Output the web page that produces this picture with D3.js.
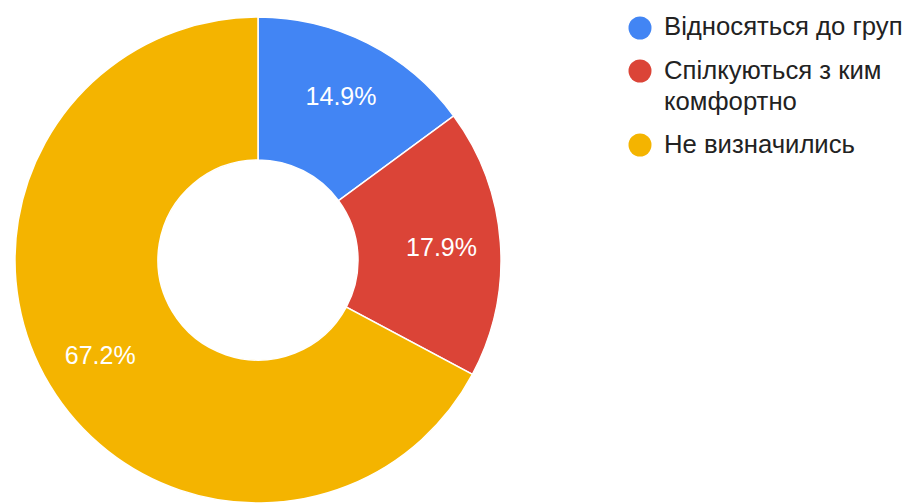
<!DOCTYPE html>
<html>
<head>
<meta charset="utf-8">
<script src="https://cdn.jsdelivr.net/npm/d3@7"></script>
<style>
  html, body { margin: 0; padding: 0; background: #fff; }
  svg { display: block; font-family: Arial, "Liberation Sans", sans-serif; }
</style>
</head>
<body>
<svg id="chart" width="909" height="503"></svg>
<script>
// Survey answers and their shares (percent)
const categories = ["Відносяться до груп", "Спілкуються з ким комфортно", "Не визначились"];
const legendLines = [["Відносяться до груп"], ["Спілкуються з ким", "комфортно"], ["Не визначились"]];
const values = [14.9, 17.9, 67.2];
const colors = ["#4285f4", "#db4437", "#f4b400"];

const svg = d3.select("#chart");
const cx = 258, cy = 260;
const outerR = 243, innerR = 100, labelR = 184;

const pie = d3.pie().value(d => d.value).sort(null);
const arcs = pie(categories.map((c, i) => ({ name: c, value: values[i], color: colors[i] })));

const arc = d3.arc().innerRadius(innerR).outerRadius(outerR);
const labelArc = d3.arc().innerRadius(labelR).outerRadius(labelR);

const g = svg.append("g").attr("transform", `translate(${cx},${cy})`);

g.selectAll("path.slice")
  .data(arcs)
  .join("path")
  .attr("class", "slice")
  .attr("d", arc)
  .attr("fill", d => d.data.color)
  .attr("stroke", "#fff")
  .attr("stroke-width", 1.5);

g.selectAll("text.pct")
  .data(arcs)
  .join("text")
  .attr("class", "pct")
  .attr("transform", d => `translate(${labelArc.centroid(d)})`)
  .attr("text-anchor", "middle")
  .attr("dy", "0.36em")
  .attr("fill", "#fff")
  .attr("font-size", 25)
  .text(d => d.data.value.toFixed(1) + "%");

// Legend: marker centre and first-line baseline for each entry
const legendY = [28, 71, 145];
const legendBase = [35, 79, 153];
const lg = svg.append("g");
legendLines.forEach((lines, i) => {
  lg.append("circle")
    .attr("cx", 640).attr("cy", legendY[i])
    .attr("r", 11.5).attr("fill", colors[i]);
  const t = lg.append("text")
    .attr("x", 664)
    .attr("y", legendBase[i])
    .attr("font-size", 25.7)
    .attr("fill", "#222");
  lines.forEach((ln, j) => {
    t.append("tspan").attr("x", 664).attr("dy", j === 0 ? 0 : 31).text(ln);
  });
});
</script>
</body>
</html>
